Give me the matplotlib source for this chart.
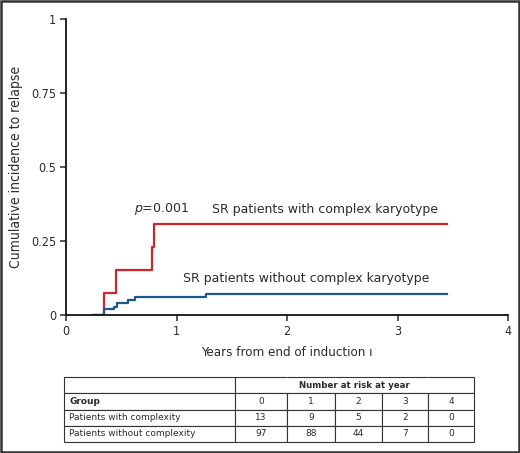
import matplotlib
matplotlib.use("Agg")
import matplotlib.pyplot as plt
from matplotlib.patches import Rectangle

# step curves
red_t = [0.245, 0.347, 0.45, 0.775, 0.80, 3.45]
red_y = [0.0, 0.073, 0.152, 0.231, 0.306, 0.306]
blue_t = [0.245, 0.34, 0.43, 0.46, 0.56, 0.62, 1.27, 3.45]
blue_y = [0.0, 0.02, 0.028, 0.04, 0.051, 0.061, 0.071, 0.071]

x_ticks = [0, 1, 2, 3, 4]
y_ticks = [0, 0.25, 0.5, 0.75, 1]
y_tick_labels = ["0", "0.25", "0.5", "0.75", "1"]

table_groups = ["Patients with complexity", "Patients without complexity"]
risk_years = ["0", "1", "2", "3", "4"]
risk_with = [13, 9, 5, 2, 0]
risk_without = [97, 88, 44, 7, 0]

red = "#d2232a"
blue = "#1b5a8e"
ink = "#2b2b2b"

cond = dict(family="DejaVu Sans", stretch="condensed")
body = dict(family="DejaVu Sans")

fig = plt.figure(figsize=(5.2, 4.53), dpi=100)
W, H = 520, 453

ax = fig.add_axes([66 / W, 1 - 315 / H, (508 - 66) / W, (315 - 19) / H])
ax.step(red_t, red_y, where="post", color=red, lw=1.6)
ax.step(blue_t, blue_y, where="post", color=blue, lw=1.6)
ax.set_xlim(0, 4)
ax.set_ylim(0, 1)
ax.set_xticks(x_ticks)
ax.set_xticklabels([str(t) for t in x_ticks], fontsize=9, color=ink, **cond)
ax.set_yticks(y_ticks)
ax.set_yticklabels(y_tick_labels, fontsize=9, color=ink, **cond)
ax.tick_params(length=4, width=1.1, pad=3, colors=ink)
for s in ["top", "right"]:
    ax.spines[s].set_visible(False)
for s in ["left", "bottom"]:
    ax.spines[s].set_linewidth(1.3)
    ax.spines[s].set_color("#111111")
ax.set_xlabel("Years from end of induction \u0131", fontsize=9.5, color=ink, labelpad=6, **cond)
ax.set_ylabel("Cumulative incidence to relapse", fontsize=10, color=ink, labelpad=6, **cond)

ax.text(0.615, 0.358, "$\\it{p}$=0.001", fontsize=9, color=ink, va="center", **body)
ax.text(1.32, 0.358, "SR patients with complex karyotype", fontsize=9, color=ink, va="center", **body)
ax.text(1.06, 0.122, "SR patients without complex karyotype", fontsize=9, color=ink, va="center", **body)

# number-at-risk table
tx = fig.add_axes([64 / W, 1 - 442 / H, (474 - 64) / W, (442 - 377) / H])
tx.axis("off")
cells = [[""] * 6,
         ["Group"] + risk_years,
         [table_groups[0]] + [str(v) for v in risk_with],
         [table_groups[1]] + [str(v) for v in risk_without]]
edges = [235, 287, 335, 382, 428, 474]
widths = [(edges[0] - 64) / 410] + [(edges[i + 1] - edges[i]) / 410 for i in range(5)]
tab = tx.table(cellText=cells, colWidths=widths, bbox=[0, 0, 1, 1], cellLoc="center")
tab.auto_set_font_size(False)
for (r, c), cell in tab.get_celld().items():
    cell.set_linewidth(0.8)
    cell.set_edgecolor("#333333")
    t = cell.get_text()
    t.set_fontsize(6.5)
    t.set_color(ink)
    t.set_family("DejaVu Sans")
    if c == 0:
        t.set_ha("left")
        cell.PAD = 0.03
    if r == 1 and c == 0:
        t.set_fontweight("bold")
    if r == 0 and c >= 1:
        cell.visible_edges = "LTB" if c == 1 else ("TBR" if c == 5 else "TB")
tx.text(((edges[0] + edges[-1]) / 2 - 64) / 410, 0.875, "Number at risk at year",
        fontsize=6.2, fontweight="bold", color=ink, ha="center", va="center",
        transform=tx.transAxes, **body)

fig.add_artist(Rectangle((0.002, 0.002), 0.996, 0.995, transform=fig.transFigure,
                         fill=False, lw=1.8, ec="#333333"))

fig.savefig("out.png", dpi=100)
